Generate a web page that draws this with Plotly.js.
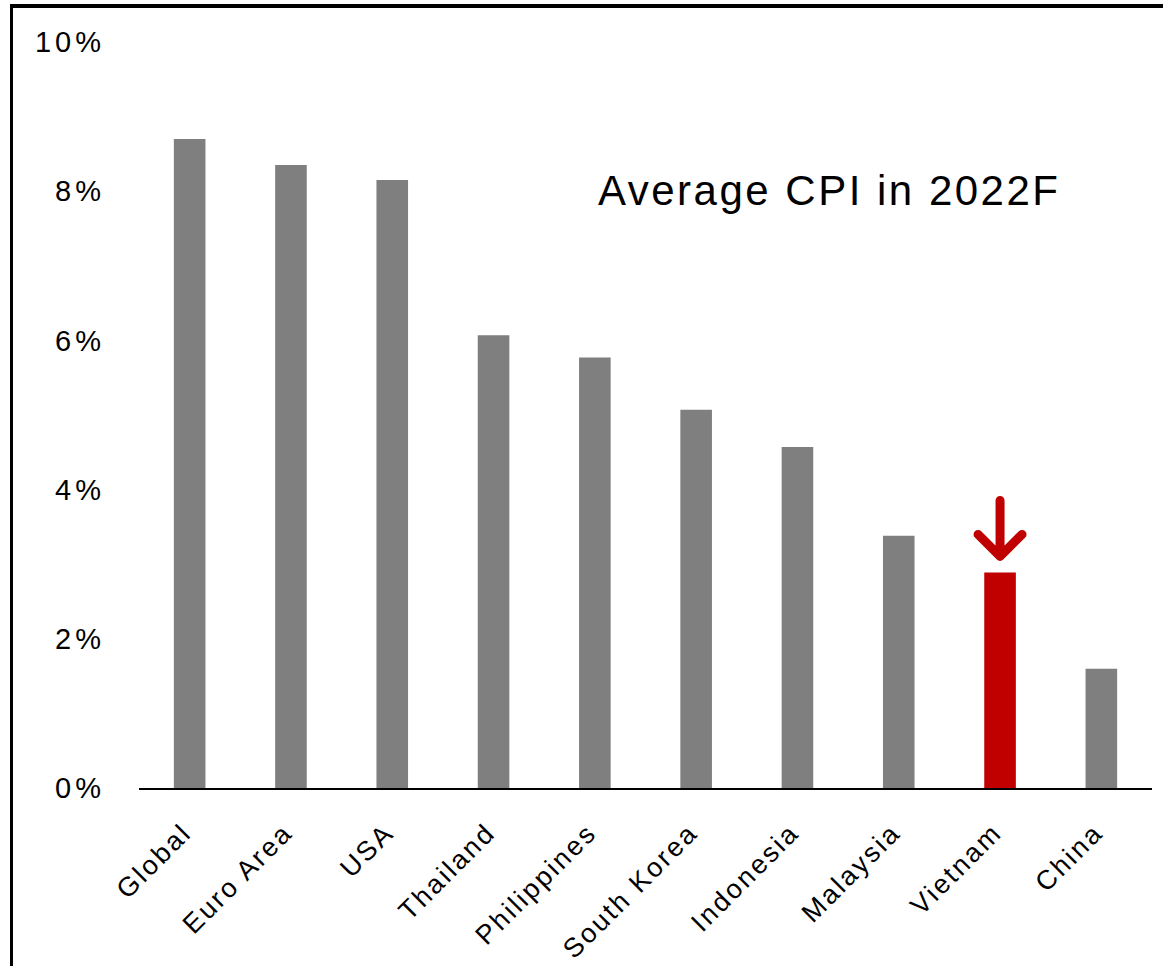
<!DOCTYPE html>
<html>
<head>
<meta charset="utf-8">
<script src="https://cdn.plot.ly/plotly-3.0.1.min.js"></script>
<style>
  html, body { margin: 0; padding: 0; background: #ffffff; overflow: hidden; }
  #wrap { position: relative; width: 1163px; height: 966px; }
  #chart { width: 1163px; height: 966px; }
  /* black frame running along the top and left edges */
  #frame {
    position: absolute; left: 10px; top: 4px; right: -10px; bottom: -10px;
    border-left: 3.5px solid #000; border-top: 4px solid #000;
    pointer-events: none;
  }
  .xtick text { letter-spacing: 2.5px; }
  .ytick text { letter-spacing: 4px; }
  .annotation-text { letter-spacing: 2.5px; }
  .shapelayer path { stroke-linecap: round; stroke-linejoin: round; }
</style>
</head>
<body>
<div id="wrap">
  <div id="chart"></div>
  <div id="frame"></div>
</div>
<script>
// Average consumer price inflation forecast for 2022, in percent
const countries = ['Global', 'Euro Area', 'USA', 'Thailand', 'Philippines',
                   'South Korea', 'Indonesia', 'Malaysia', 'Vietnam', 'China'];
const cpi2022 = [8.7, 8.35, 8.15, 6.07, 5.77, 5.07, 4.57, 3.38, 2.89, 1.6];
const highlight = 'Vietnam';
const yTicks = [0, 2, 4, 6, 8, 10];
const chartTitle = 'Average CPI in 2022F';

const baseColor = '#7F7F7F';
const accentColor = '#C00000';
const barColors = countries.map(c => c === highlight ? accentColor : baseColor);
const hiIndex = countries.indexOf(highlight);

const fontFamily = '"Liberation Sans", Arial, Helvetica, sans-serif';

const trace = {
  type: 'bar',
  x: countries,
  y: cpi2022,
  marker: { color: barColors, line: { width: 0 } },
  hoverinfo: 'x+y'
};

const layout = {
  width: 1163,
  height: 966,
  margin: { l: 139, r: 11, t: 42, b: 178, pad: 0 },
  paper_bgcolor: '#ffffff',
  plot_bgcolor: '#ffffff',
  showlegend: false,
  bargap: 0.688,
  font: { family: fontFamily, color: '#000000' },
  xaxis: {
    type: 'category',
    range: [-0.5, countries.length - 0.5],
    showline: true,
    linecolor: '#000000',
    linewidth: 2,
    showgrid: false,
    zeroline: false,
    ticks: '',
    tickangle: -45,
    ticklabelstandoff: 16,
    ticklabelshift: -6,
    tickfont: { family: fontFamily, size: 27, color: '#000000' }
  },
  yaxis: {
    range: [0, 10],
    tickvals: yTicks,
    ticktext: yTicks.map(v => v + '%'),
    showline: false,
    showgrid: false,
    zeroline: false,
    ticks: '',
    ticklabelstandoff: 33,
    tickfont: { family: fontFamily, size: 29, color: '#000000' }
  },
  annotations: [{
    text: chartTitle,
    xref: 'paper', yref: 'paper',
    x: 0.451, y: 0.801,
    xanchor: 'left', yanchor: 'middle',
    showarrow: false,
    font: { family: fontFamily, size: 42, color: '#000000' }
  }],
  shapes: [{
    // downward arrow marking the highlighted bar, drawn in pixels above its top
    type: 'path',
    xref: 'x', yref: 'y',
    xsizemode: 'pixel', ysizemode: 'pixel',
    xanchor: hiIndex,
    yanchor: cpi2022[hiIndex],
    path: 'M0,72L0,17M-22,38L0,16L22,38',
    line: { color: accentColor, width: 9 }
  }]
};

Plotly.newPlot('chart', [trace], layout, { displayModeBar: false, staticPlot: true });
</script>
</body>
</html>
